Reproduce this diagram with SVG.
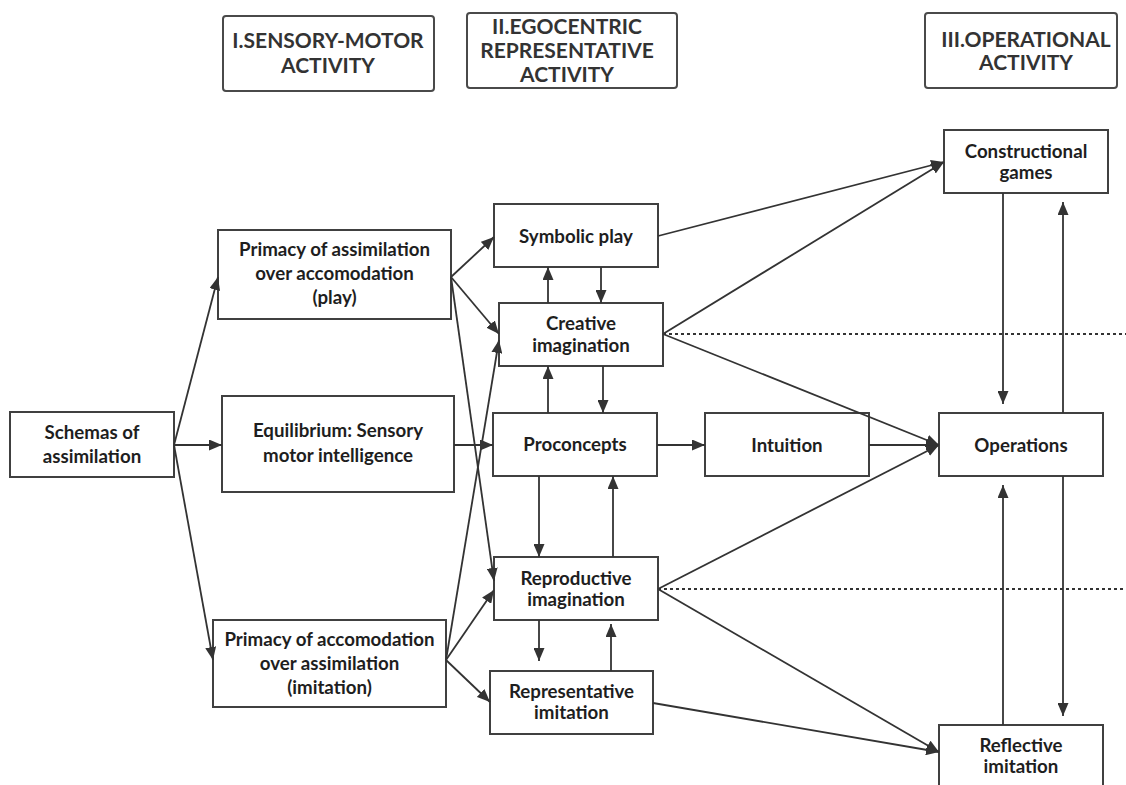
<svg xmlns="http://www.w3.org/2000/svg" width="1126" height="785" viewBox="0 0 1126 785">
<style>
.box{fill:#fff;stroke:#404040;stroke-width:2}
.hdr{fill:#fff;stroke:#4a4a4a;stroke-width:2}
.t{font-family:Lato,"Open Sans",sans-serif;font-weight:bold;font-size:18.7px;fill:#1e1e1e;text-anchor:middle}
.h{font-family:Lato,"Open Sans",sans-serif;font-weight:bold;font-size:21px;fill:#333;text-anchor:middle}
.c{fill:none;stroke:#333;stroke-width:1.8}
.d{fill:none;stroke:#333;stroke-width:1.8;stroke-dasharray:3 3}
</style>
<defs>
<marker id="a" markerUnits="userSpaceOnUse" markerWidth="14" markerHeight="11" refX="13" refY="5.5" orient="auto">
<path d="M0,0 L13,5.5 L0,11 z" fill="#333"/>
</marker>
</defs>
<rect width="1126" height="785" fill="#fff"/>
<g id="header1"><rect class="hdr" x="223" y="16" width="211" height="75" rx="3"/><text class="h" x="328" y="48">I.SENSORY-MOTOR</text><text class="h" x="328" y="73">ACTIVITY</text></g>
<g id="header2"><rect class="hdr" x="467" y="13" width="210" height="75" rx="3"/><text class="h" x="567" y="34">II.EGOCENTRIC</text><text class="h" x="567" y="58">REPRESENTATIVE</text><text class="h" x="567" y="82">ACTIVITY</text></g>
<g id="header3"><rect class="hdr" x="925" y="13" width="192" height="75" rx="3"/><text class="h" x="1026" y="47">III.OPERATIONAL</text><text class="h" x="1026" y="70">ACTIVITY</text></g>
<g id="schemas"><rect class="box" x="10" y="412" width="164" height="65"/><text class="t" x="92" y="439">Schemas of</text><text class="t" x="92" y="463">assimilation</text></g>
<g id="assim"><rect class="box" x="218" y="230" width="233" height="89"/><text class="t" x="334.5" y="256">Primacy of assimilation</text><text class="t" x="334.5" y="280">over accomodation</text><text class="t" x="334.5" y="304">(play)</text></g>
<g id="equil"><rect class="box" x="222" y="396" width="232" height="96"/><text class="t" x="338" y="437">Equilibrium: Sensory</text><text class="t" x="338" y="462">motor intelligence</text></g>
<g id="accom"><rect class="box" x="213" y="620" width="233" height="87"/><text class="t" x="329.5" y="646">Primacy of accomodation</text><text class="t" x="329.5" y="670">over assimilation</text><text class="t" x="329.5" y="694">(imitation)</text></g>
<g id="symbolic"><rect class="box" x="494" y="204" width="164" height="63"/><text class="t" x="576" y="243">Symbolic play</text></g>
<g id="creative"><rect class="box" x="499" y="303" width="164" height="63"/><text class="t" x="581" y="330">Creative</text><text class="t" x="581" y="352">imagination</text></g>
<g id="proconcepts"><rect class="box" x="493" y="413" width="164" height="63"/><text class="t" x="575" y="451">Proconcepts</text></g>
<g id="intuition"><rect class="box" x="705" y="413" width="164" height="63"/><text class="t" x="787" y="452">Intuition</text></g>
<g id="operations"><rect class="box" x="939" y="413" width="164" height="63"/><text class="t" x="1021" y="452">Operations</text></g>
<g id="reproductive"><rect class="box" x="494" y="557" width="164" height="63"/><text class="t" x="576" y="585">Reproductive</text><text class="t" x="576" y="606">imagination</text></g>
<g id="representative"><rect class="box" x="490" y="671" width="163" height="63"/><text class="t" x="571.5" y="698">Representative</text><text class="t" x="571.5" y="719">imitation</text></g>
<g id="constructional"><rect class="box" x="944" y="130" width="164" height="63"/><text class="t" x="1026" y="158">Constructional</text><text class="t" x="1026" y="179">games</text></g>
<g id="reflective"><rect class="box" x="939" y="725" width="164" height="70"/><text class="t" x="1021" y="752">Reflective</text><text class="t" x="1021" y="773">imitation</text></g>
<g id="connectors">
<path class="c" marker-end="url(#a)" d="M174,445 L218,277"/>
<path class="c" marker-end="url(#a)" d="M174,445 L222,445"/>
<path class="c" marker-end="url(#a)" d="M174,445 L213,660"/>
<path class="c" marker-end="url(#a)" d="M451,277 L494,237"/>
<path class="c" marker-end="url(#a)" d="M451,277 L499,334"/>
<path class="c" marker-end="url(#a)" d="M451,277 L494,581"/>
<path class="c" marker-end="url(#a)" d="M446,660 L499,340"/>
<path class="c" marker-end="url(#a)" d="M446,660 L494,590"/>
<path class="c" marker-end="url(#a)" d="M446,660 L490,702"/>
<path class="c" marker-end="url(#a)" d="M454,445 L493,445"/>
<path class="c" marker-end="url(#a)" d="M548,303 L548,267"/>
<path class="c" marker-end="url(#a)" d="M601,267 L601,303"/>
<path class="c" marker-end="url(#a)" d="M548,413 L548,366"/>
<path class="c" marker-end="url(#a)" d="M603,366 L603,413"/>
<path class="c" marker-end="url(#a)" d="M539,476 L539,557"/>
<path class="c" marker-end="url(#a)" d="M613,557 L613,476"/>
<path class="c" marker-end="url(#a)" d="M539,620 L539,661"/>
<path class="c" marker-end="url(#a)" d="M611,671 L611,624"/>
<path class="c" marker-end="url(#a)" d="M657,445 L705,445"/>
<path class="c" marker-end="url(#a)" d="M869,445 L939,445"/>
<path class="c" marker-end="url(#a)" d="M663,334 L939,445"/>
<path class="c" marker-end="url(#a)" d="M658,589 L939,445"/>
<path class="c" marker-end="url(#a)" d="M658,236 L944,162"/>
<path class="c" marker-end="url(#a)" d="M663,334 L944,162"/>
<path class="c" marker-end="url(#a)" d="M1003,193 L1003,404"/>
<path class="c" marker-end="url(#a)" d="M1063,413 L1063,202"/>
<path class="c" marker-end="url(#a)" d="M1003,725 L1003,485"/>
<path class="c" marker-end="url(#a)" d="M1063,476 L1063,716"/>
<path class="c" marker-end="url(#a)" d="M658,589 L939,752"/>
<path class="c" marker-end="url(#a)" d="M653,703 L939,752"/>
<path class="d" d="M663,334 L1126,334"/>
<path class="d" d="M658,589 L1126,589"/>
</g>
</svg>
